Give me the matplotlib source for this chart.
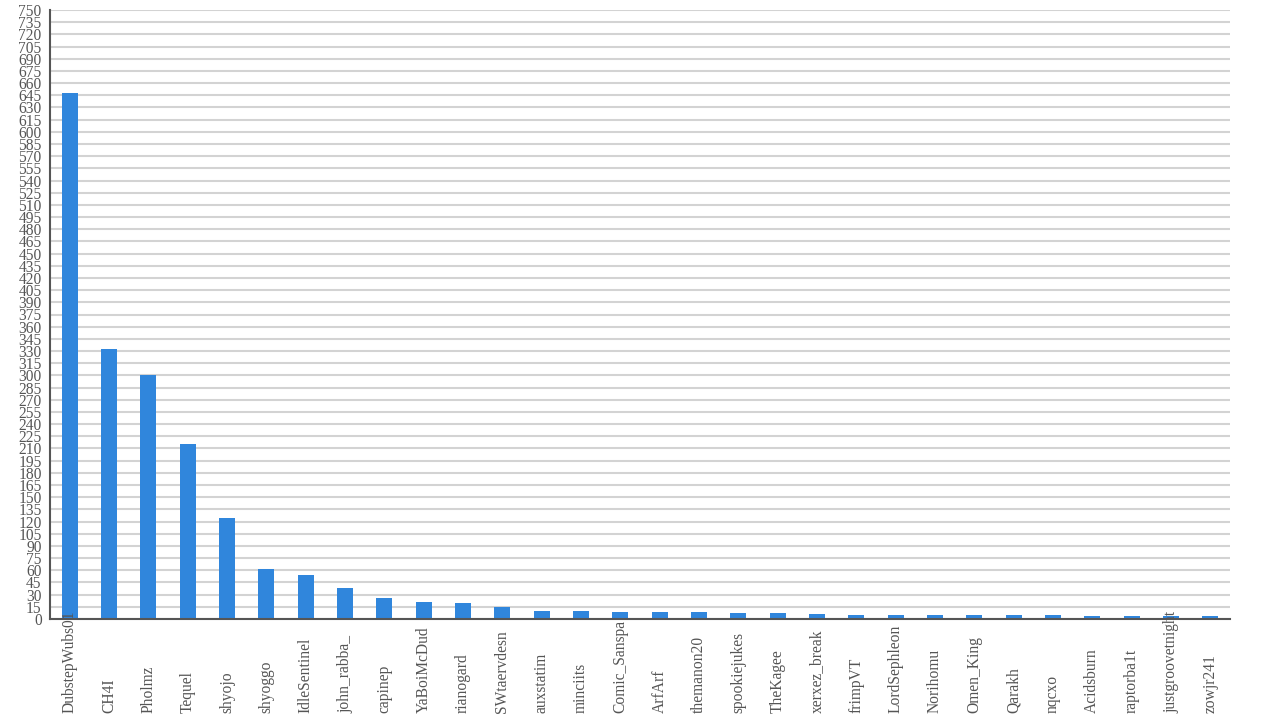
import matplotlib
matplotlib.use("Agg")
import matplotlib.pyplot as plt
import matplotlib.transforms as mtransforms
import numpy as np

names = ["DubstepWubs01", "CH4I", "Pholmz", "Tequel", "shyojo", "shyoggo",
         "IdleSentinel", "john_rabba_", "capinep", "YaBoiMcDud", "rianogard",
         "SWtaervdesn", "auxstatim", "minciits", "Comic_Sanspa", "ArfArf",
         "themanon20", "spookiejukes", "TheKagee", "xerxez_break", "frimpVT",
         "LordSephleon", "Norihomu", "Omen_King", "Qarakh", "nqcxo",
         "Acidsburn", "raptorba1t", "justgroovetnight", "zowjr241"]
values = [648, 333, 301, 216, 124, 62, 54, 38, 26, 21, 20, 15, 10, 10, 9, 9,
          9, 7, 7, 6, 5, 5, 5, 5, 5, 5, 4, 4, 4, 4]
yticks = list(range(0, 751, 15))

text_color = "#555555"
plt.rcParams["font.family"] = ["Liberation Serif", "DejaVu Serif"]

fig = plt.figure(figsize=(12.8, 7.2), dpi=100)
ax = fig.add_axes([50 / 1280, 101 / 720, 1180 / 1280, 609 / 720])

x = np.arange(len(names))
ax.bar(x, values, width=0.4, color="#3086dc", zorder=3)

ax.set_xlim(-0.5, len(names) - 0.5)
ax.set_ylim(0, 750)
ax.set_yticks(yticks)
ax.set_yticklabels([str(t) for t in yticks], fontsize=11.2, color=text_color)
ax.set_xticks(x)
ax.set_xticklabels([])
ax.tick_params(axis="x", length=0)
ax.tick_params(axis="y", length=0, pad=6)

# category labels drawn on top of the bars, reading upwards from the bottom
trans = mtransforms.blended_transform_factory(ax.transData, fig.transFigure)
for xi, name in zip(x, names):
    ax.text(xi, 7 / 720, name, transform=trans, rotation=90, ha="center",
            va="bottom", fontsize=11.2, color=text_color, clip_on=False,
            zorder=6)

ax.grid(axis="y", color="#d3d3d3", linewidth=1.5, zorder=0)
for side in ["top", "right"]:
    ax.spines[side].set_visible(False)
for side in ["left", "bottom"]:
    ax.spines[side].set_color(text_color)
    ax.spines[side].set_linewidth(1.5)
    ax.spines[side].set_zorder(4)

fig.savefig("out.png", dpi=100)
